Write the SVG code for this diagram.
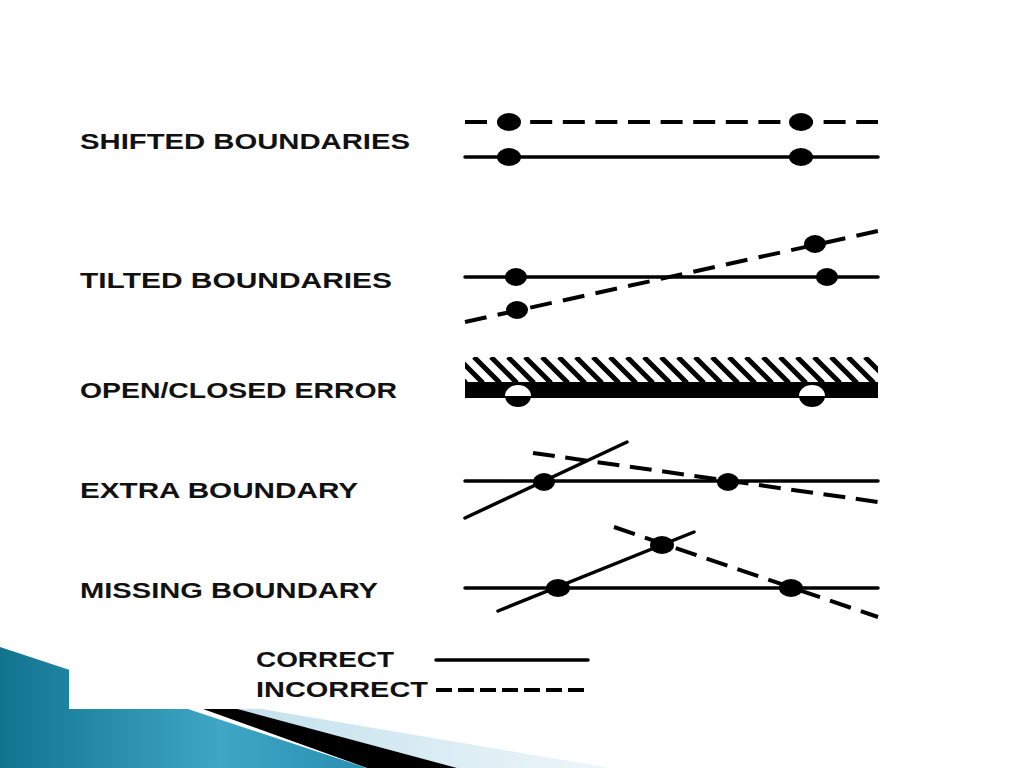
<svg xmlns="http://www.w3.org/2000/svg" width="1024" height="768" viewBox="0 0 1024 768">
  <defs>
    <style>
      .lbl { font-family: "Liberation Sans", Arial, sans-serif; font-weight: bold; font-size: 21.5px; fill: #111; }
      .solid { stroke: #000; stroke-width: 3.5; fill: none; stroke-linecap: round; }
      .dash { stroke: #000; stroke-width: 4; fill: none; stroke-dasharray: 22 10.6; }
      .dot { fill: #000; }
    </style>
    <linearGradient id="blue" x1="0" y1="0" x2="1" y2="0">
      <stop offset="0" stop-color="#10748f"/>
      <stop offset="0.6" stop-color="#3fa6c6"/>
      <stop offset="1" stop-color="#2a8fb0"/>
    </linearGradient>
    <linearGradient id="light" x1="0" y1="0" x2="1" y2="0">
      <stop offset="0" stop-color="#b9dcea"/>
      <stop offset="1" stop-color="#eef6fa"/>
    </linearGradient>
    <clipPath id="hatchClip">
      <rect x="465" y="357" width="413" height="26"/>
    </clipPath>
  </defs>

  <rect x="0" y="0" width="1024" height="768" fill="#fff"/>

  <!-- bottom-left decoration -->
  <g id="decoration">
    <polygon points="150,690 610,768 457,768" fill="url(#light)"/>
    <polygon points="100,672 457,768 367,768" fill="#000"/>
    <polygon points="0,647 367,768 0,768" fill="url(#blue)"/>
    <rect x="69" y="600" width="955" height="109" fill="#fff"/>
  </g>

  <!-- labels -->
  <g id="labels">
    <text class="lbl" x="80" y="149" textLength="330" lengthAdjust="spacingAndGlyphs">SHIFTED BOUNDARIES</text>
    <text class="lbl" x="80" y="288" textLength="312" lengthAdjust="spacingAndGlyphs">TILTED BOUNDARIES</text>
    <text class="lbl" x="80" y="398" textLength="317" lengthAdjust="spacingAndGlyphs">OPEN/CLOSED ERROR</text>
    <text class="lbl" x="80" y="498" textLength="278" lengthAdjust="spacingAndGlyphs">EXTRA BOUNDARY</text>
    <text class="lbl" x="80" y="598" textLength="298" lengthAdjust="spacingAndGlyphs">MISSING BOUNDARY</text>
    <text class="lbl" x="256" y="667" textLength="138" lengthAdjust="spacingAndGlyphs">CORRECT</text>
    <text class="lbl" x="256" y="697" textLength="172" lengthAdjust="spacingAndGlyphs">INCORRECT</text>
  </g>

  <!-- shifted boundaries -->
  <g id="shifted">
    <line class="dash" x1="465" y1="122" x2="878" y2="122"/>
    <line class="solid" x1="465" y1="157" x2="878" y2="157"/>
    <ellipse class="dot" cx="509" cy="122" rx="12" ry="9"/>
    <ellipse class="dot" cx="801" cy="122" rx="12" ry="9"/>
    <ellipse class="dot" cx="509" cy="157" rx="12" ry="9"/>
    <ellipse class="dot" cx="801" cy="157" rx="12" ry="9"/>
  </g>

  <!-- tilted boundaries -->
  <g id="tilted">
    <line class="solid" x1="465" y1="277" x2="878" y2="277"/>
    <line class="dash" x1="465" y1="322" x2="878" y2="231" style="stroke-dasharray: 22 11.4"/>
    <ellipse class="dot" cx="516" cy="277" rx="11" ry="9"/>
    <ellipse class="dot" cx="827" cy="277" rx="11" ry="9"/>
    <ellipse class="dot" cx="517" cy="310" rx="11" ry="9"/>
    <ellipse class="dot" cx="815" cy="244" rx="11" ry="9"/>
  </g>

  <!-- open/closed error -->
  <g id="openclosed">
    <g clip-path="url(#hatchClip)">
      <path stroke="#000" stroke-width="5" fill="none" d="M440,357 l26,26 M457,357 l26,26 M474,357 l26,26 M491,357 l26,26 M508,357 l26,26 M525,357 l26,26 M542,357 l26,26 M559,357 l26,26 M576,357 l26,26 M593,357 l26,26 M610,357 l26,26 M627,357 l26,26 M644,357 l26,26 M661,357 l26,26 M678,357 l26,26 M695,357 l26,26 M712,357 l26,26 M729,357 l26,26 M746,357 l26,26 M763,357 l26,26 M780,357 l26,26 M797,357 l26,26 M814,357 l26,26 M831,357 l26,26 M848,357 l26,26 M865,357 l26,26"/>
    </g>
    <rect x="465" y="382" width="413" height="16" fill="#000"/>
    <path d="M505,396 a13,11 0 0 1 26,0 z" fill="#fff"/>
    <path d="M505,396 a13,11 0 0 0 26,0 z" fill="#000"/>
    <path d="M799,396 a13,11 0 0 1 26,0 z" fill="#fff"/>
    <path d="M799,396 a13,11 0 0 0 26,0 z" fill="#000"/>
  </g>

  <!-- extra boundary -->
  <g id="extra">
    <line class="solid" x1="465" y1="481" x2="878" y2="481"/>
    <line class="solid" x1="465" y1="518" x2="627" y2="442"/>
    <line class="dash" x1="533" y1="453" x2="878" y2="502"/>
    <ellipse class="dot" cx="544" cy="482" rx="11" ry="9"/>
    <ellipse class="dot" cx="728" cy="482" rx="11" ry="9"/>
  </g>

  <!-- missing boundary -->
  <g id="missing">
    <line class="solid" x1="465" y1="588" x2="878" y2="588"/>
    <line class="solid" x1="498" y1="611" x2="694" y2="532"/>
    <line class="dash" x1="614" y1="527" x2="878" y2="617"/>
    <ellipse class="dot" cx="662" cy="545" rx="12" ry="9"/>
    <ellipse class="dot" cx="558" cy="588" rx="12" ry="9"/>
    <ellipse class="dot" cx="791" cy="588" rx="12" ry="9"/>
  </g>

  <!-- legend -->
  <g id="legend">
    <line class="solid" x1="436" y1="660" x2="588" y2="660"/>
    <line x1="436" y1="690" x2="590" y2="690" stroke="#000" stroke-width="4" stroke-dasharray="16 6"/>
  </g>
</svg>
